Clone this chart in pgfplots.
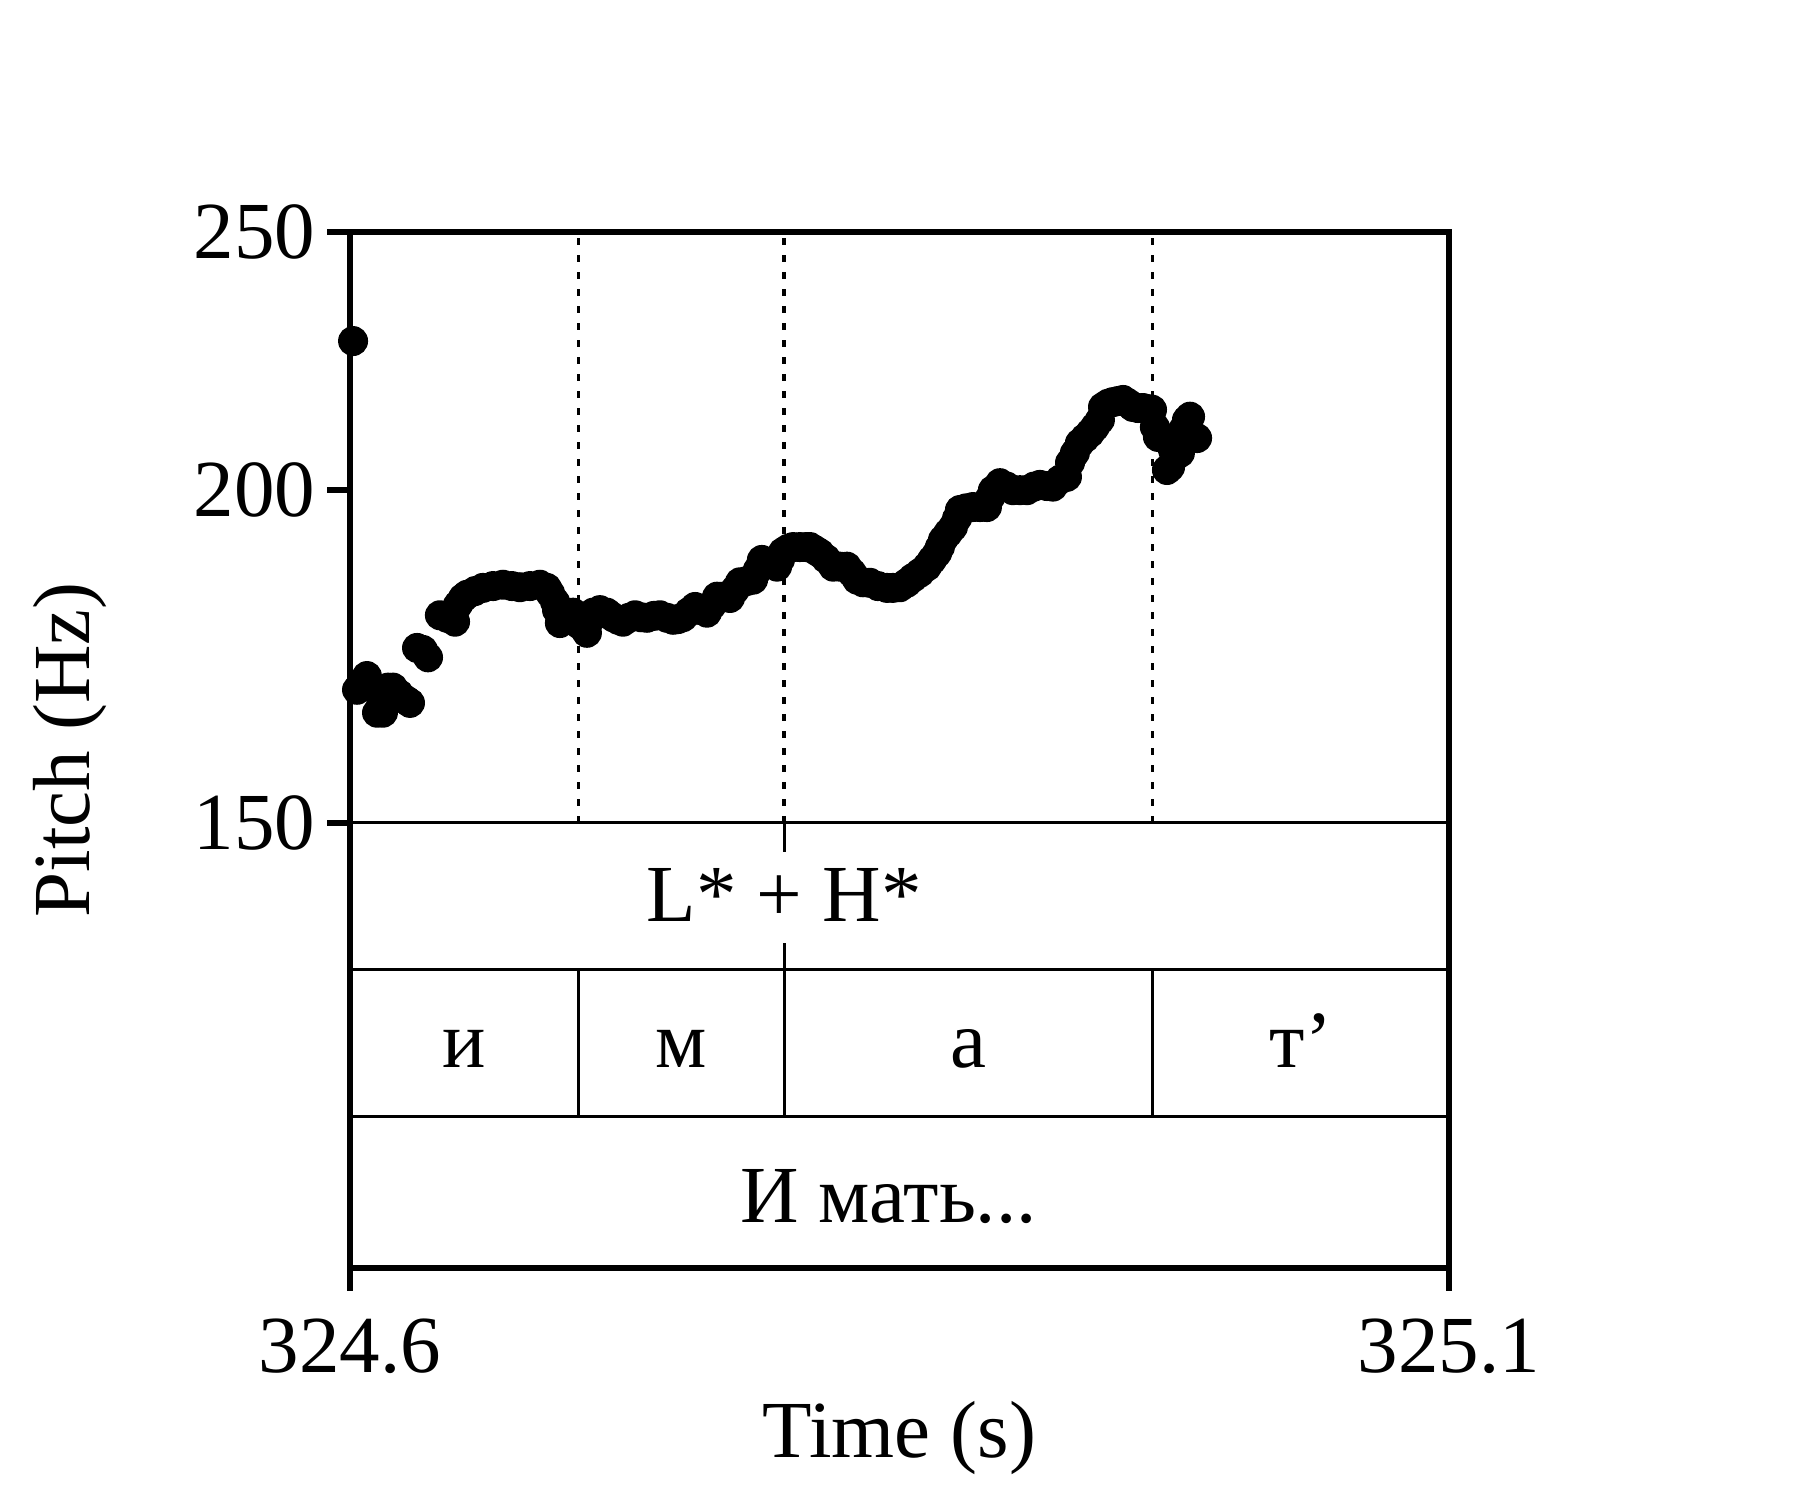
\documentclass[border=0pt]{standalone}
\usepackage{fontspec}
\setmainfont{Liberation Serif}
\usepackage{pgfplots}
\pgfplotsset{compat=1.18}
\pgfplotstableread{
t p
324.6014 227.5
324.6032 168.3
324.6055 169.3
324.6077 170.3
324.6100 168.6
324.6123 165.0
324.6150 165.0
324.6173 168.6
324.6196 168.6
324.6223 167.7
324.6255 166.8
324.6273 166.4
324.6305 174.5
324.6332 174.2
324.6355 173.1
324.6409 179.5
324.6441 179.1
324.6478 178.5
324.6491 181.1
324.6514 182.2
324.6532 182.7
324.6569 183.3
324.6605 183.8
324.6651 184.1
324.6696 184.3
324.6737 184.1
324.6773 183.9
324.6819 184.1
324.6864 184.3
324.6896 183.8
324.6910 183.0
324.6933 181.6
324.6942 180.3
324.6955 178.3
324.6983 179.1
324.7015 179.9
324.7046 178.0
324.7078 176.8
324.7092 178.8
324.7106 179.9
324.7137 180.3
324.7169 179.9
324.7197 179.2
324.7219 178.8
324.7242 178.5
324.7269 179.1
324.7297 179.5
324.7324 179.2
324.7351 179.1
324.7383 179.4
324.7410 179.5
324.7442 179.1
324.7470 178.8
324.7492 178.9
324.7515 179.2
324.7542 180.0
324.7570 180.8
324.7597 180.3
324.7624 179.9
324.7647 181.1
324.7670 182.4
324.7697 182.4
324.7729 182.2
324.7752 183.5
324.7774 184.7
324.7806 184.9
324.7834 185.1
324.7856 186.7
324.7874 188.3
324.7911 187.8
324.7943 187.2
324.7956 188.3
324.7970 189.6
324.7993 190.1
324.8016 190.4
324.8047 190.4
324.8075 190.4
324.8093 190.4
324.8116 189.9
324.8138 189.4
324.8166 188.5
324.8198 187.2
324.8229 187.2
324.8261 187.2
324.8284 186.2
324.8307 185.1
324.8334 184.7
324.8366 184.6
324.8402 184.1
324.8443 183.8
324.8470 183.8
324.8502 183.9
324.8534 184.6
324.8561 185.4
324.8593 186.2
324.8625 187.2
324.8648 188.3
324.8671 189.4
324.8684 190.4
324.8698 191.6
324.8721 192.7
324.8743 193.7
324.8762 195.2
324.8775 196.6
324.8803 196.9
324.8834 197.1
324.8866 197.1
324.8898 197.1
324.8912 198.7
324.8925 200.0
324.8957 201.2
324.8989 200.6
324.9016 200.0
324.9048 200.0
324.9080 200.0
324.9112 200.6
324.9139 200.9
324.9171 200.7
324.9198 200.6
324.9230 201.8
324.9262 202.3
324.9276 204.8
324.9298 206.5
324.9321 208.3
324.9344 209.2
324.9367 210.1
324.9389 211.2
324.9412 212.5
324.9426 214.9
324.9449 215.5
324.9471 215.8
324.9494 216.0
324.9517 216.2
324.9540 215.6
324.9562 214.9
324.9585 214.7
324.9608 214.7
324.9631 214.5
324.9649 214.4
324.9662 211.2
324.9676 209.4
324.9699 209.2
324.9717 208.9
324.9744 207.1
324.9731 204.0
324.9717 203.5
324.9776 206.5
324.9790 210.7
324.9808 212.5
324.9822 213.1
324.9854 209.2
}\pitchdata
\begin{document}
\fontsize{16.2}{19.4}\selectfont
\begin{tikzpicture}
\begin{axis}[
  scale only axis, width=219.8pt, height=207.2pt,
  xmin=324.6, xmax=325.1,
  ymode=log, ymin=102.1, ymax=250,
  xtick={324.6,325.1}, xticklabels={324.6,325.1},
  ytick={150,200,250}, yticklabels={150,200,250},
  minor ytick={}, minor xtick={},
  xtick pos=bottom, ytick pos=left,
  tick align=outside,
  major tick length=4.6pt,
  tick style={line width=1.1pt, black},
  axis line style={line width=1.1pt},
  yticklabel style={xshift=3.2pt},
  clip=false,
  xlabel={Time (s)},
  ylabel={Pitch (Hz)},
  xlabel style={at={(axis description cs:0.5,-0.1834)}, anchor=base},
  ylabel style={at={(axis description cs:-0.2366,0.5)}, anchor=base},
]
\addplot[only marks, mark=*, mark size=2.8pt, black] table[x=t, y=p] {\pitchdata};
% tier lines
\draw[line width=0.6pt] (axis cs:324.6,150) -- (axis cs:325.1,150);
\draw[line width=0.6pt] (axis cs:324.6,132.1) -- (axis cs:325.1,132.1);
\draw[line width=0.6pt] (axis cs:324.6,116.4) -- (axis cs:325.1,116.4);
% dotted boundaries in pitch area
\draw[line width=0.65pt, dash pattern=on 1.4pt off 2pt] (axis cs:324.704,150) -- (axis cs:324.704,250);
\draw[line width=0.65pt, dash pattern=on 1.4pt off 2pt] (axis cs:324.7975,150) -- (axis cs:324.7975,250);
\draw[line width=0.65pt, dash pattern=on 1.4pt off 2pt] (axis cs:324.9652,150) -- (axis cs:324.9652,250);
% phone boundaries
\draw[line width=0.6pt] (axis cs:324.704,132.1) -- (axis cs:324.704,116.4);
\draw[line width=0.6pt] (axis cs:324.7975,132.1) -- (axis cs:324.7975,116.4);
\draw[line width=0.6pt] (axis cs:324.9652,132.1) -- (axis cs:324.9652,116.4);
% point tier marker
\draw[line width=0.6pt] (axis cs:324.7975,150) -- (axis cs:324.7975,146.3);
\draw[line width=0.6pt] (axis cs:324.7975,135.2) -- (axis cs:324.7975,132.1);
% labels
\node[anchor=base, inner sep=0pt] at (axis cs:324.7975,137.7) {L* + H*};
\node[anchor=base, inner sep=0pt] at (axis cs:324.652,121.4) {и};
\node[anchor=base, inner sep=0pt] at (axis cs:324.7508,121.4) {м};
\node[anchor=base, inner sep=0pt] at (axis cs:324.8814,121.4) {а};
\node[anchor=base, inner sep=0pt] at (axis cs:325.0326,121.4) {т’};
\node[anchor=base, inner sep=0pt] at (axis cs:324.845,106.2) {И мать...};
\end{axis}
\path[use as bounding box] (-70pt,-46.4pt) rectangle (290pt,253.6pt);
\end{tikzpicture}
\end{document}
